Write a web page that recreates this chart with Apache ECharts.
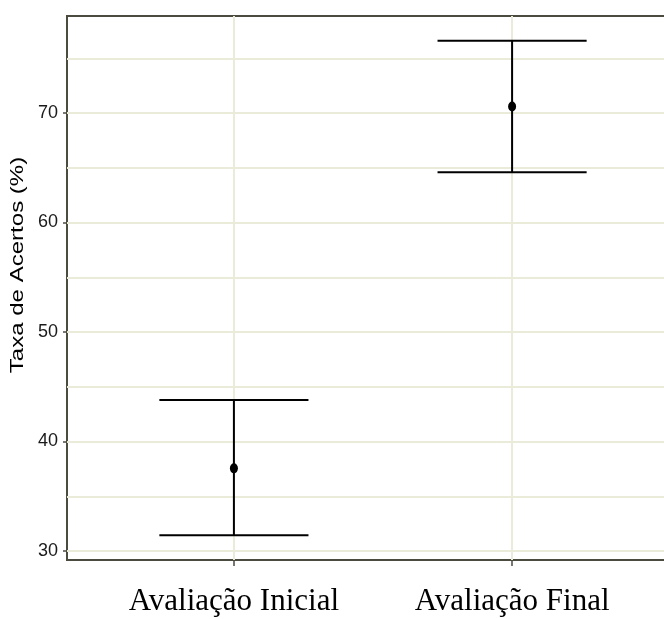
<!DOCTYPE html>
<html>
<head>
<meta charset="utf-8">
<script src="https://cdn.jsdelivr.net/npm/echarts@6/dist/echarts.min.js"></script>
<style>
  html, body { margin: 0; padding: 0; background: #fff; }
  #chart { width: 664px; height: 619px; }
</style>
</head>
<body>
<div id="chart"></div>
<script>
const categories = ['Avaliação Inicial', 'Avaliação Final'];
const positions = [1, 2];
const means = [37.55, 70.6];
const lower = [31.45, 64.6];
const upper = [43.8, 76.6];
const yTicks = [30, 40, 50, 60, 70];
const yGrid = [30, 35, 40, 45, 50, 55, 60, 65, 70, 75];

document.addEventListener('DOMContentLoaded', function() {
  const chart = echarts.init(document.getElementById('chart'));
  const gridColor = '#ebebd9';
  const frameColor = '#4b4b40';
  const capHalf = 0.268;

  const gridLines = yGrid.map(v => ({ yAxis: v }))
    .concat(positions.map(p => ({ xAxis: p })));

  const option = {
    animation: false,
    grid: {
      left: 67, top: 16, width: 612, bottom: 59,
      outerBoundsMode: 'none',
      containLabel: false,
      show: true, borderColor: frameColor, borderWidth: 2, backgroundColor: '#fff'
    },
    graphic: [{
      type: 'text',
      x: 18,
      y: 265,
      rotation: Math.PI / 2,
      scaleX: 1.3,
      style: {
        text: 'Taxa de Acertos (%)',
        font: '18.5px "Liberation Sans"',
        fill: '#000',
        align: 'center',
        verticalAlign: 'middle'
      }
    }],
    xAxis: {
      type: 'value',
      min: 0.4,
      max: 2.6,
      axisLine: { show: false },
      splitLine: { show: false },
      axisTick: { show: true, customValues: positions, length: 6, lineStyle: { color: frameColor, width: 1.5 } },
      axisLabel: {
        customValues: positions,
        formatter: function(v) { return categories[positions.indexOf(v)] || ''; },
        fontFamily: 'Liberation Serif', fontSize: 31, color: '#000', margin: 26
      }
    },
    yAxis: {
      type: 'value',
      min: 29.18,
      max: 78.86,
      axisLine: { show: false },
      splitLine: { show: false },
      axisTick: { show: true, customValues: yTicks, length: 4, lineStyle: { color: frameColor, width: 1.5 } },
      axisLabel: {
        customValues: yTicks,
        fontFamily: 'Liberation Sans', fontSize: 18, color: '#1a1a1a', margin: 9
      }
    },
    series: [
      {
        type: 'line',
        data: [],
        silent: true,
        z: 1,
        markLine: {
          silent: true,
          z: 1,
          symbol: 'none',
          animation: false,
          label: { show: false },
          lineStyle: { color: gridColor, width: 2, type: 'solid' },
          data: gridLines
        }
      },
      {
        type: 'custom',
        z: 10,
        data: positions.map((p, i) => [p, lower[i], upper[i]]),
        renderItem: function(params, api) {
          const x = api.value(0);
          const lo = api.coord([x, api.value(1)]);
          const hi = api.coord([x, api.value(2)]);
          const loL = api.coord([x - capHalf, api.value(1)]);
          const loR = api.coord([x + capHalf, api.value(1)]);
          const hiL = api.coord([x - capHalf, api.value(2)]);
          const hiR = api.coord([x + capHalf, api.value(2)]);
          const style = { stroke: '#000', lineWidth: 2 };
          return {
            type: 'group',
            children: [
              { type: 'line', shape: { x1: lo[0], y1: lo[1], x2: hi[0], y2: hi[1] }, style: style },
              { type: 'line', shape: { x1: loL[0], y1: loL[1], x2: loR[0], y2: loR[1] }, style: style },
              { type: 'line', shape: { x1: hiL[0], y1: hiL[1], x2: hiR[0], y2: hiR[1] }, style: style }
            ]
          };
        }
      },
      {
        type: 'scatter',
        z: 11,
        symbol: 'circle',
        symbolSize: [8, 10],
        itemStyle: { color: '#000', borderWidth: 0, opacity: 1 },
        data: positions.map((p, i) => [p, means[i]])
      }
    ]
  };
  chart.setOption(option);
});
</script>
</body>
</html>
